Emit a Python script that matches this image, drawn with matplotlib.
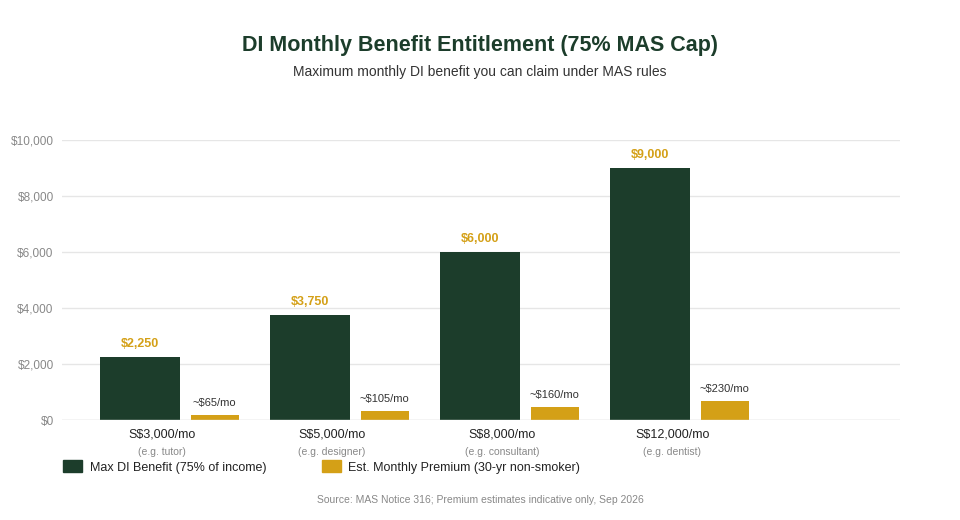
import matplotlib
matplotlib.use("Agg")
import matplotlib.pyplot as plt
from matplotlib.patches import Patch

plt.rcParams['font.family'] = ['Liberation Sans', 'DejaVu Sans']

categories = ["S$3,000/mo", "S$5,000/mo", "S$8,000/mo", "S$12,000/mo"]
examples = ["(e.g. tutor)", "(e.g. designer)", "(e.g. consultant)", "(e.g. dentist)"]
benefit = [2250, 3750, 6000, 9000]
premium_labels = ["~$65/mo", "~$105/mo", "~$160/mo", "~$230/mo"]
premium_bar_heights = [195, 315, 480, 690]  # drawn heights
yticks = [0, 2000, 4000, 6000, 8000, 10000]

DARK = "#1c3d2b"
GOLD = "#d4a017"

fig = plt.figure(figsize=(9.6, 5.2), dpi=100)
ax = fig.add_axes([62/960, 100/520, 838/960, 280/520])
x = list(range(len(categories)))
ax.bar([i - 0.13 for i in x], benefit, width=0.47, color=DARK, zorder=3)
ax.bar([i + 0.31 for i in x], premium_bar_heights, width=0.28, color=GOLD, zorder=3)
for i in x:
    ax.text(i - 0.13, benefit[i] + 250, f"${benefit[i]:,}", ha="center", va="bottom",
            color=GOLD, fontsize=9, fontweight="bold")
    ax.text(i + 0.31, premium_bar_heights[i] + 250, premium_labels[i], ha="center",
            va="bottom", color="#333333", fontsize=8)
ax.set_xlim(-0.588, 4.34)
ax.set_ylim(0, 10000)
ax.set_yticks(yticks)
ax.set_yticklabels([f"${v:,}" for v in yticks], color="#888888", fontsize=8.5)
ax.set_xticks(x)
ax.set_xticklabels(categories, fontsize=9, color="#222222")
for i in x:
    ax.text(i, -950, examples[i], ha="center", va="top", fontsize=7.5, color="#888888")
ax.tick_params(length=0, pad=6)
ax.grid(axis="y", color="#e6e6e6", lw=1, zorder=0)
for s in ax.spines.values():
    s.set_visible(False)
ax.axhline(0, color="#dddddd", lw=1, zorder=4)

fig.text(0.5, 1 - 45/520, "DI Monthly Benefit Entitlement (75% MAS Cap)", ha="center",
         va="center", fontsize=15.5, fontweight="bold", color=DARK)
fig.text(0.5, 1 - 72/520, "Maximum monthly DI benefit you can claim under MAS rules",
         ha="center", va="center", fontsize=10, color="#333333")
handles = [Patch(color=DARK, label="Max DI Benefit (75% of income)"),
           Patch(color=GOLD, label="Est. Monthly Premium (30-yr non-smoker)")]
fig.legend(handles=handles, loc="center left", bbox_to_anchor=(52/960, 1 - 467/520),
           ncol=2, frameon=False, fontsize=9, handlelength=1.5, handleheight=1.1,
           columnspacing=4.5, handletextpad=0.6, labelcolor="#222222")
fig.text(0.5, 1 - 500/520, "Source: MAS Notice 316; Premium estimates indicative only, Sep 2026",
         ha="center", va="center", fontsize=7.5, color="#888888")
fig.savefig("out.png", dpi=100)
